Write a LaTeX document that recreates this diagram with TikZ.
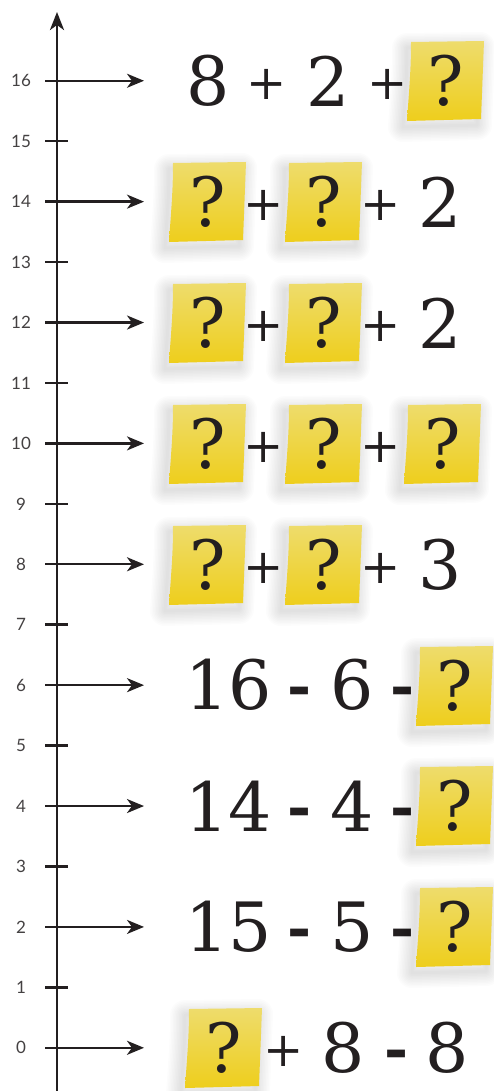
\documentclass[tikz,border=0pt]{standalone}
\usepackage{fontspec}
\setmainfont{DejaVu Serif}
\newfontfamily\labfont{Lato}
\usetikzlibrary{arrows.meta}
\definecolor{ink}{HTML}{231F20}
\definecolor{notetop}{HTML}{EEDC6C}
\definecolor{notemid}{HTML}{FBF06A}
\definecolor{notebot}{HTML}{EECE1C}
\newcommand\noteshape[2]{(#1-35,#2-39) -- (#1+38,#2-40) -- (#1+35,#2+38) -- (#1-39,#2+40)
     .. controls (#1-37,#2+10) and (#1-35,#2-10) .. (#1-35,#2-39) -- cycle}
\newcommand\stickynote[3]{%
  \foreach \r in {1,...,10}{
    \draw[black, opacity=0.013, line width=\r*3pt, line join=round] \noteshape{#2-4}{#3+6};
  }
  \path[note] \noteshape{#2}{#3};
  \node[eq] (#1) at (#2,#3) {?};
}
\begin{document}
\begin{tikzpicture}[x=1pt,y=-1pt,
  axisline/.style={ink, line width=2.8pt},
  ticks/.style={ink, line width=2.6pt},
  ptr/.style={ink, line width=2.3pt, -{Stealth[length=17pt,width=14pt,inset=5pt]}},
  lab/.style={font=\labfont\fontsize{17}{17}\selectfont, text=ink!85, anchor=center, inner sep=0},
  eq/.style={font=\fontsize{68}{68}\selectfont, text=ink, inner sep=0, anchor=center},
  plus/.style={font=\fontsize{48}{48}\selectfont, text=ink, inner sep=0, anchor=center},
  minus/.style={font=\bfseries\fontsize{58}{58}\selectfont, text=ink, inner sep=0, anchor=base},
  note/.style={top color=notetop, middle color=notemid, bottom color=notebot}]
\useasboundingbox (0,0) rectangle (494,1091);
\fill[white] (0,0) rectangle (494,1091);
% axis
\coordinate (abot) at (57,1091);
\coordinate (atop) at (57,12);
\draw[axisline, -{Stealth[length=18pt,width=14pt,inset=5pt]}] (abot) -- (atop);
% ticks and labels
\foreach \n in {0,...,16}{
  \pgfmathsetmacro\yy{1047.8-\n*60.44}
  \coordinate (t\n) at (45,\yy);
  \node[lab] (l\n) at (21,\yy) {\n};
}
\foreach \n in {1,3,...,15}{
  \pgfmathsetmacro\yy{1047.8-\n*60.44}
  \coordinate (e\n) at (68,\yy);
  \draw[ticks] (t\n) -- (e\n);
}
\foreach \n in {0,2,...,16}{
  \pgfmathsetmacro\yy{1047.8-\n*60.44}
  \coordinate (e\n) at (144,\yy);
  \draw[ptr] (t\n) -- (e\n);
}
% row 16
\node[eq] (a16) at (208,81) {8};
\node[plus] (b16) at (267,84) {+};
\node[eq] (c16) at (328,81) {2};
\node[plus] (d16) at (388,84) {+};
\stickynote{q16}{446}{81}
% row 14
\stickynote{q14a}{208}{202}
\node[plus] (b14) at (264,205) {+};
\stickynote{q14b}{324}{202}
\node[plus] (d14) at (381,205) {+};
\node[eq] (c14) at (440,202) {2};
% row 12
\stickynote{q12a}{208}{323}
\node[plus] (b12) at (264,326) {+};
\stickynote{q12b}{324}{323}
\node[plus] (d12) at (381,326) {+};
\node[eq] (c12) at (440,323) {2};
% row 10
\stickynote{q10a}{208}{444}
\node[plus] (b10) at (264,447) {+};
\stickynote{q10b}{324}{444}
\node[plus] (d10) at (381,447) {+};
\stickynote{q10c}{443}{444}
% row 8
\stickynote{q8a}{208}{565}
\node[plus] (b8) at (264,568) {+};
\stickynote{q8b}{324}{565}
\node[plus] (d8) at (381,568) {+};
\node[eq] (c8) at (440,565) {3};
% row 6
\node[eq] (a6) at (229,685) {16};
\node[minus] (b6) at (300,706) {-};
\node[eq] (c6) at (352,685) {6};
\node[minus] (d6) at (403,706) {-};
\stickynote{q6}{455}{686}
% row 4
\node[eq] (a4) at (229,806) {14};
\node[minus] (b4) at (300,827) {-};
\node[eq] (c4) at (352,806) {4};
\node[minus] (d4) at (403,827) {-};
\stickynote{q4}{455}{806}
% row 2
\node[eq] (a2) at (229,927) {15};
\node[minus] (b2) at (300,948) {-};
\node[eq] (c2) at (352,927) {5};
\node[minus] (d2) at (403,948) {-};
\stickynote{q2}{455}{927}
% row 0
\stickynote{q0}{224}{1048}
\node[plus] (b0) at (284,1051) {+};
\node[eq] (c0) at (343,1048) {8};
\node[minus] (d0) at (397,1069) {-};
\node[eq] (f0) at (447,1048) {8};
\end{tikzpicture}
\end{document}
